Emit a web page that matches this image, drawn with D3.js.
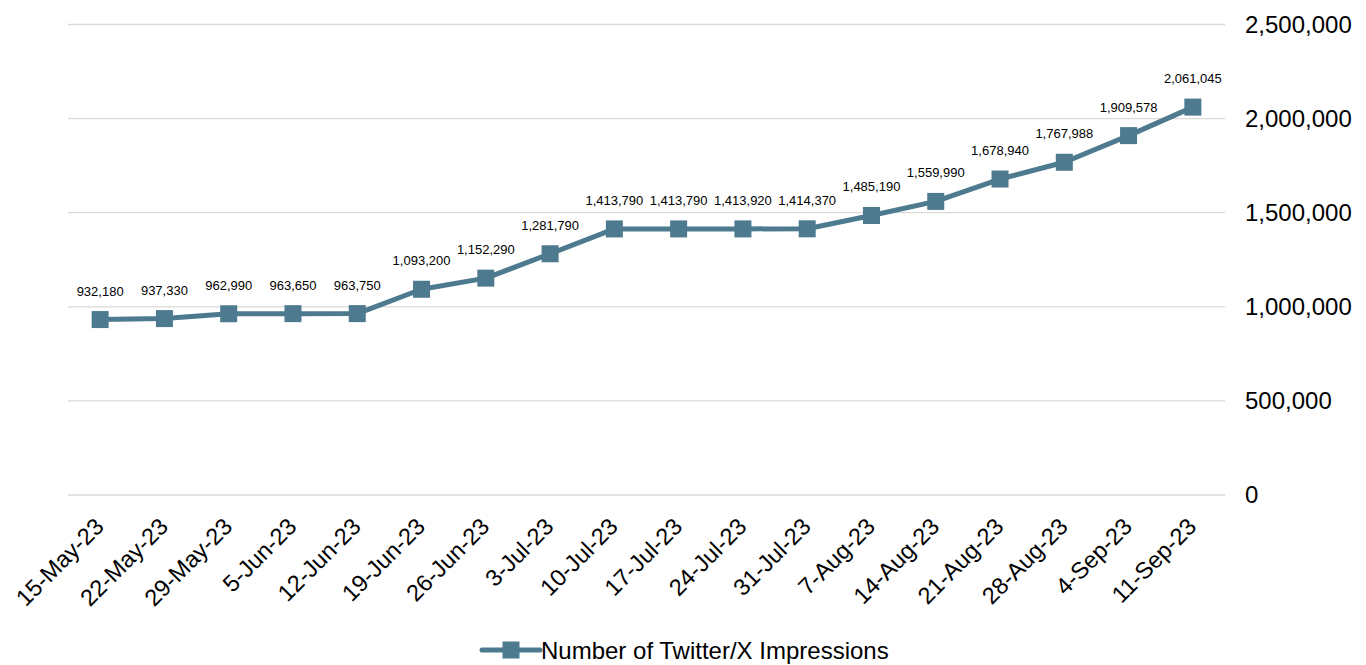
<!DOCTYPE html>
<html>
<head>
<meta charset="utf-8">
<script src="https://cdn.jsdelivr.net/npm/d3@7"></script>
<style>
  html, body { margin: 0; padding: 0; background: #fff; }
  svg { display: block; font-family: "Liberation Sans", Arial, sans-serif; }
</style>
</head>
<body>
<svg id="chart" width="1366" height="665"></svg>
<script>
// Weekly Twitter/X impressions (cumulative)
const dates = ["15-May-23","22-May-23","29-May-23","5-Jun-23","12-Jun-23","19-Jun-23","26-Jun-23","3-Jul-23","10-Jul-23","17-Jul-23","24-Jul-23","31-Jul-23","7-Aug-23","14-Aug-23","21-Aug-23","28-Aug-23","4-Sep-23","11-Sep-23"];
const impressions = [932180,937330,962990,963650,963750,1093200,1152290,1281790,1413790,1413790,1413920,1414370,1485190,1559990,1678940,1767988,1909578,2061045];
const yTicks = [0,500000,1000000,1500000,2000000,2500000];
const seriesName = "Number of Twitter/X Impressions";

const color = "#4d7a8f";
const svg = d3.select("#chart");
const plot = { left: 68, right: 1225, top: 24.5, bottom: 495 };

const x = d3.scaleBand().domain(dates).range([plot.left, plot.right]);
const y = d3.scaleLinear().domain([0, 2500000]).range([plot.bottom, plot.top]);
const fmt = d3.format(",");

// Horizontal gridlines
svg.append("g")
  .selectAll("line").data(yTicks).join("line")
  .attr("x1", plot.left).attr("x2", plot.right)
  .attr("y1", d => y(d)).attr("y2", d => y(d))
  .attr("stroke", "#d9d9d9").attr("stroke-width", 1.3);

// Right-hand value axis
const yAxis = svg.append("g")
  .attr("transform", `translate(${plot.right},0)`)
  .call(d3.axisRight(y).tickValues(yTicks).tickFormat(fmt).tickSize(0).tickPadding(20));
yAxis.select(".domain").remove();
yAxis.selectAll("text").attr("font-size", 24).attr("fill", "#000")
  .attr("font-family", "Liberation Sans, Arial, sans-serif");

// Category axis with rotated labels
const xAxis = svg.append("g")
  .attr("transform", `translate(0,${plot.bottom})`)
  .call(d3.axisBottom(x).tickSize(0).tickPadding(0));
xAxis.select(".domain").remove();
xAxis.selectAll("text")
  .attr("font-size", 23.5).attr("fill", "#000")
  .attr("font-family", "Liberation Sans, Arial, sans-serif")
  .attr("text-anchor", "end")
  .attr("dy", null).attr("y", 0)
  .attr("transform", "translate(5,33) rotate(-45)");

const cx = d => x(d) + x.bandwidth() / 2;

// Series line
svg.append("path")
  .datum(dates.map((d, i) => [d, impressions[i]]))
  .attr("fill", "none").attr("stroke", color).attr("stroke-width", 5)
  .attr("stroke-linejoin", "round")
  .attr("d", d3.line().x(d => cx(d[0])).y(d => y(d[1])));

// Square markers
const m = 17;
svg.append("g").selectAll("rect").data(impressions).join("rect")
  .attr("x", (d, i) => cx(dates[i]) - m / 2)
  .attr("y", d => y(d) - m / 2)
  .attr("width", m).attr("height", m)
  .attr("fill", color);

// Value labels
svg.append("g").selectAll("text").data(impressions).join("text")
  .attr("x", (d, i) => cx(dates[i]))
  .attr("y", d => y(d) - 24)
  .attr("text-anchor", "middle")
  .attr("font-size", 13).attr("fill", "#000")
  .text(d => fmt(d));

// Legend
const lg = svg.append("g").attr("transform", "translate(482,650)");
lg.append("line").attr("x1", 0).attr("x2", 58).attr("y1", 0).attr("y2", 0)
  .attr("stroke", color).attr("stroke-width", 5).attr("stroke-linecap", "round");
lg.append("rect").attr("x", 29 - m / 2).attr("y", -m / 2).attr("width", m).attr("height", m).attr("fill", color);
lg.append("text").attr("x", 59).attr("y", 8.5).attr("font-size", 24).attr("fill", "#000").text(seriesName);
</script>
</body>
</html>
